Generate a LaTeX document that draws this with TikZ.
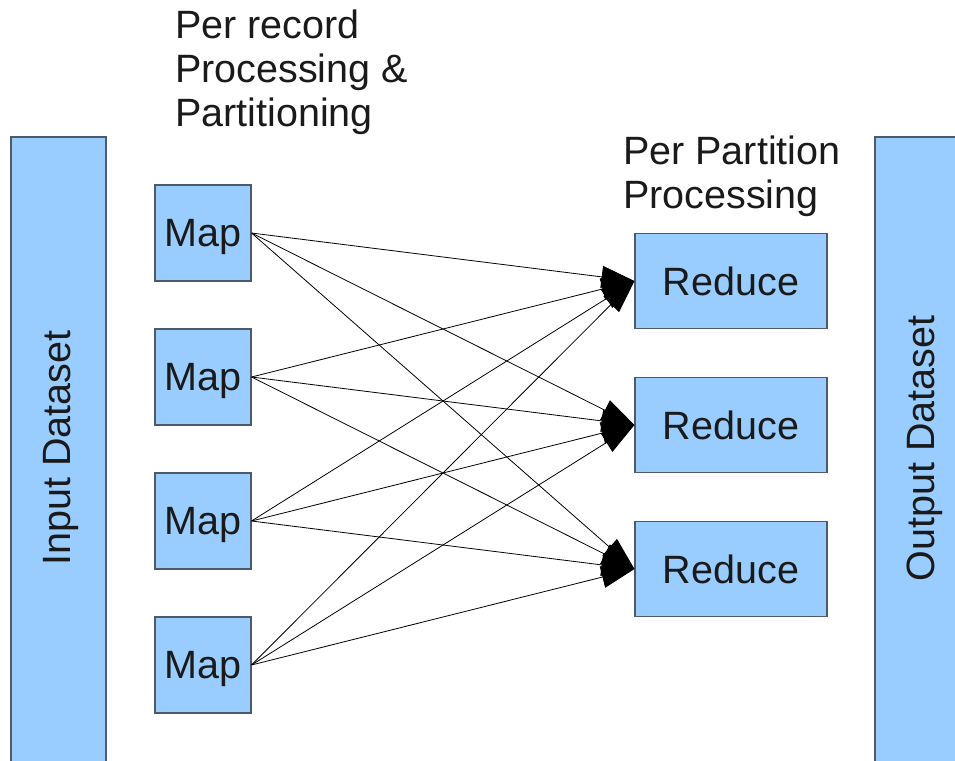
\documentclass[tikz,border=0pt]{standalone}
\usepackage{fontspec}
\setmainfont{Liberation Sans}
\usetikzlibrary{arrows.meta}
\definecolor{boxfill}{HTML}{99CCFF}
\definecolor{boxline}{HTML}{4F5A66}
\definecolor{ink}{HTML}{1A1A1A}
\tikzset{
  bigtext/.style={text=ink, font=\fontsize{39.5}{44}\selectfont},
  box/.style={draw=boxline, fill=boxfill, line width=1.1pt, inner sep=0pt,
    bigtext, text depth=0pt},
  mapbox/.style={box, minimum width=96pt, minimum height=96pt},
  redbox/.style={box, minimum width=192pt, minimum height=95pt},
  label/.style={anchor=base west, inner sep=0pt, bigtext},
  flow/.style={draw=black, line width=0.8pt,
    -{Triangle[length=33pt, width=22pt]}}
}
\begin{document}
\begin{tikzpicture}[x=1pt, y=-1pt]
  \useasboundingbox (0,0) rectangle (955,760);
  \clip (0,0) rectangle (955,760);

  % dataset columns (both run past the lower edge; the output one past the right edge too)
  \node[box, minimum width=95pt, minimum height=640pt] (input) at (58.5,457) {};
  \node[box, minimum width=95pt, minimum height=640pt] (output) at (922.5,457) {};
  \node[rotate=90, bigtext, text depth=0pt] (inputtxt) at (57,448) {Input Dataset};
  \node[rotate=90, bigtext, text depth=0pt] (outputtxt) at (921,448.5) {Output Dataset};

  % headings
  \node[label] (h1a) at (175,38) {Per record};
  \node[label] (h1b) at (175,82) {Processing \&};
  \node[label] (h1c) at (175,126) {Partitioning};
  \node[label] (h2a) at (623,164) {Per Partition};
  \node[label] (h2b) at (623,208) {Processing};

  % map tasks
  \node[mapbox] (m1) at (203,233) {Map};
  \node[mapbox] (m2) at (203,377) {Map};
  \node[mapbox] (m3) at (203,521) {Map};
  \node[mapbox] (m4) at (203,665) {Map};

  % reduce tasks
  \node[redbox] (r1) at (731,281) {Reduce};
  \node[redbox] (r2) at (731,425) {Reduce};
  \node[redbox] (r3) at (731,569) {Reduce};

  % shuffle: every map feeds every reducer
  \foreach \m in {m1,m2,m3,m4}{
    \foreach \r in {r1,r2,r3}{
      \draw[flow] (\m.east) -- (\r.west);
    }
  }
\end{tikzpicture}
\end{document}
